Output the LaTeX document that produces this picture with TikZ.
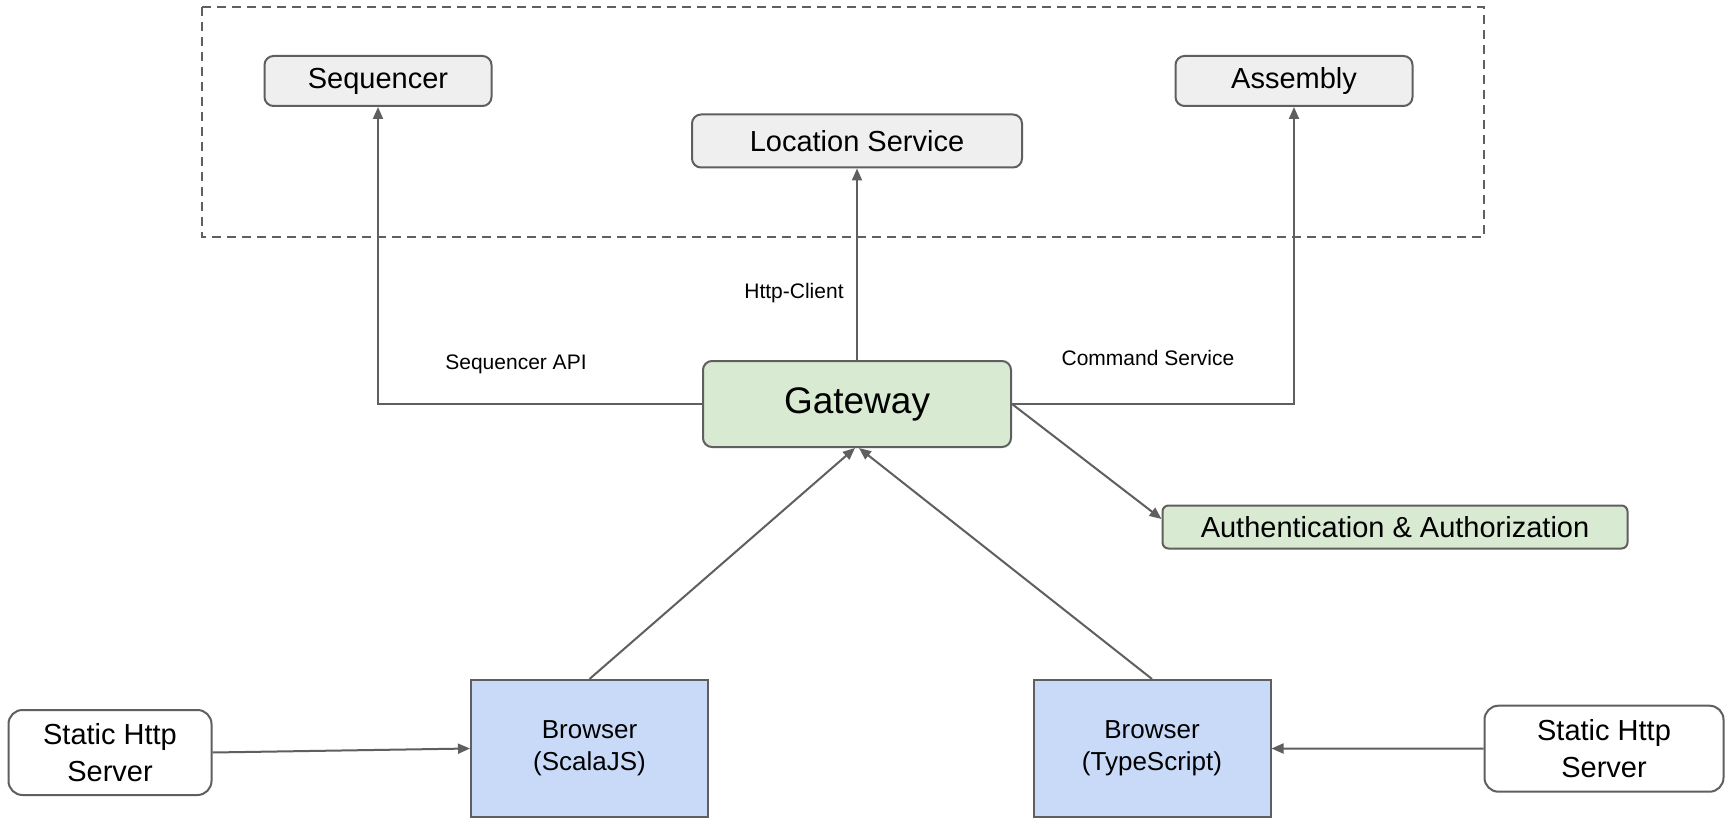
\documentclass[tikz,border=0pt]{standalone}
\usepackage{fontspec}
\setmainfont{Liberation Sans}
\usetikzlibrary{arrows.meta,calc}
\definecolor{edgegray}{HTML}{5F5F5F}
\definecolor{greyfill}{HTML}{EFEFEF}
\definecolor{greenfill}{HTML}{D9EAD3}
\definecolor{bluefill}{HTML}{C9DAF8}
\tikzset{
  greybox/.style={draw=edgegray, line width=2pt, fill=greyfill, rounded corners=9pt, inner sep=0pt, font=\fontsize{29}{35}\selectfont},
  greenbox/.style={draw=edgegray, line width=2pt, fill=greenfill, rounded corners=9pt, inner sep=0pt},
  bluebox/.style={draw=edgegray, line width=2pt, fill=bluefill, inner sep=0pt, align=center, font=\fontsize{26}{32}\selectfont},
  whitebox/.style={draw=edgegray, line width=2pt, fill=white, rounded corners=14pt, inner sep=0pt, align=center, font=\fontsize{29}{37.5}\selectfont},
  lbl/.style={font=\fontsize{21}{25}\selectfont, inner sep=0pt},
  arr/.style={draw=edgegray, line width=2pt, -{Triangle[length=12pt,width=10pt]}},
  groupbox/.style={draw=edgegray, line width=1.8pt, dash pattern=on 9pt off 6pt}
}
\begin{document}
\begin{tikzpicture}[x=1pt,y=-1pt]
\useasboundingbox (0,0) rectangle (1729,818);
\fill[white] (0,0) rectangle (1729,818);
\draw[groupbox] (202,7) rectangle (1484,237);
\node[greybox, minimum width=227pt, minimum height=50pt] (seq) at (378,81) {Sequencer};
\node[greybox, minimum width=330pt, minimum height=53pt] (loc) at (857,141) {Location Service};
\node[greybox, minimum width=237pt, minimum height=50pt] (asm) at (1294,81) {Assembly};
\node[greenbox, minimum width=308pt, minimum height=86pt, font=\fontsize{37}{44}\selectfont] (gw) at (857,404) {Gateway};
\node[greenbox, rounded corners=6pt, minimum width=465pt, minimum height=43pt, font=\fontsize{29}{35}\selectfont] (auth) at (1395,527) {Authentication \& Authorization};
\node[bluebox, minimum width=237pt, minimum height=137pt] (bs) at (589.5,748.5) {Browser\\(ScalaJS)};
\node[bluebox, minimum width=237pt, minimum height=137pt] (bt) at (1152,748.5) {Browser\\(TypeScript)};
\node[whitebox, minimum width=203pt, minimum height=85pt] (sl) at (110,752.5) {Static Http\\Server};
\node[whitebox, minimum width=239pt, minimum height=86pt] (sr) at (1604,748.7) {Static Http\\Server};
\node[lbl] (lhttp) at (794,293) {Http-Client};
\node[lbl] (lseq) at (516,364) {Sequencer API};
\node[lbl] (lcmd) at (1148,358) {Command Service};
\coordinate (authin) at ($(auth.west)+(0,-8)$);
\draw[arr] (gw.west) -| (seq.south);
\draw[arr] (gw.north) -- (loc.south);
\draw[arr] (gw.east) -| (asm.south);
\draw[arr] (gw.east) -- (authin);
\draw[arr] (bs.north) -- ($(gw.south)+(-2,0)$);
\draw[arr] (bt.north) -- ($(gw.south)+(2,0)$);
\draw[arr] (sl.east) -- (bs.west);
\draw[arr] (sr.west) -- (bt.east);
\end{tikzpicture}
\end{document}
